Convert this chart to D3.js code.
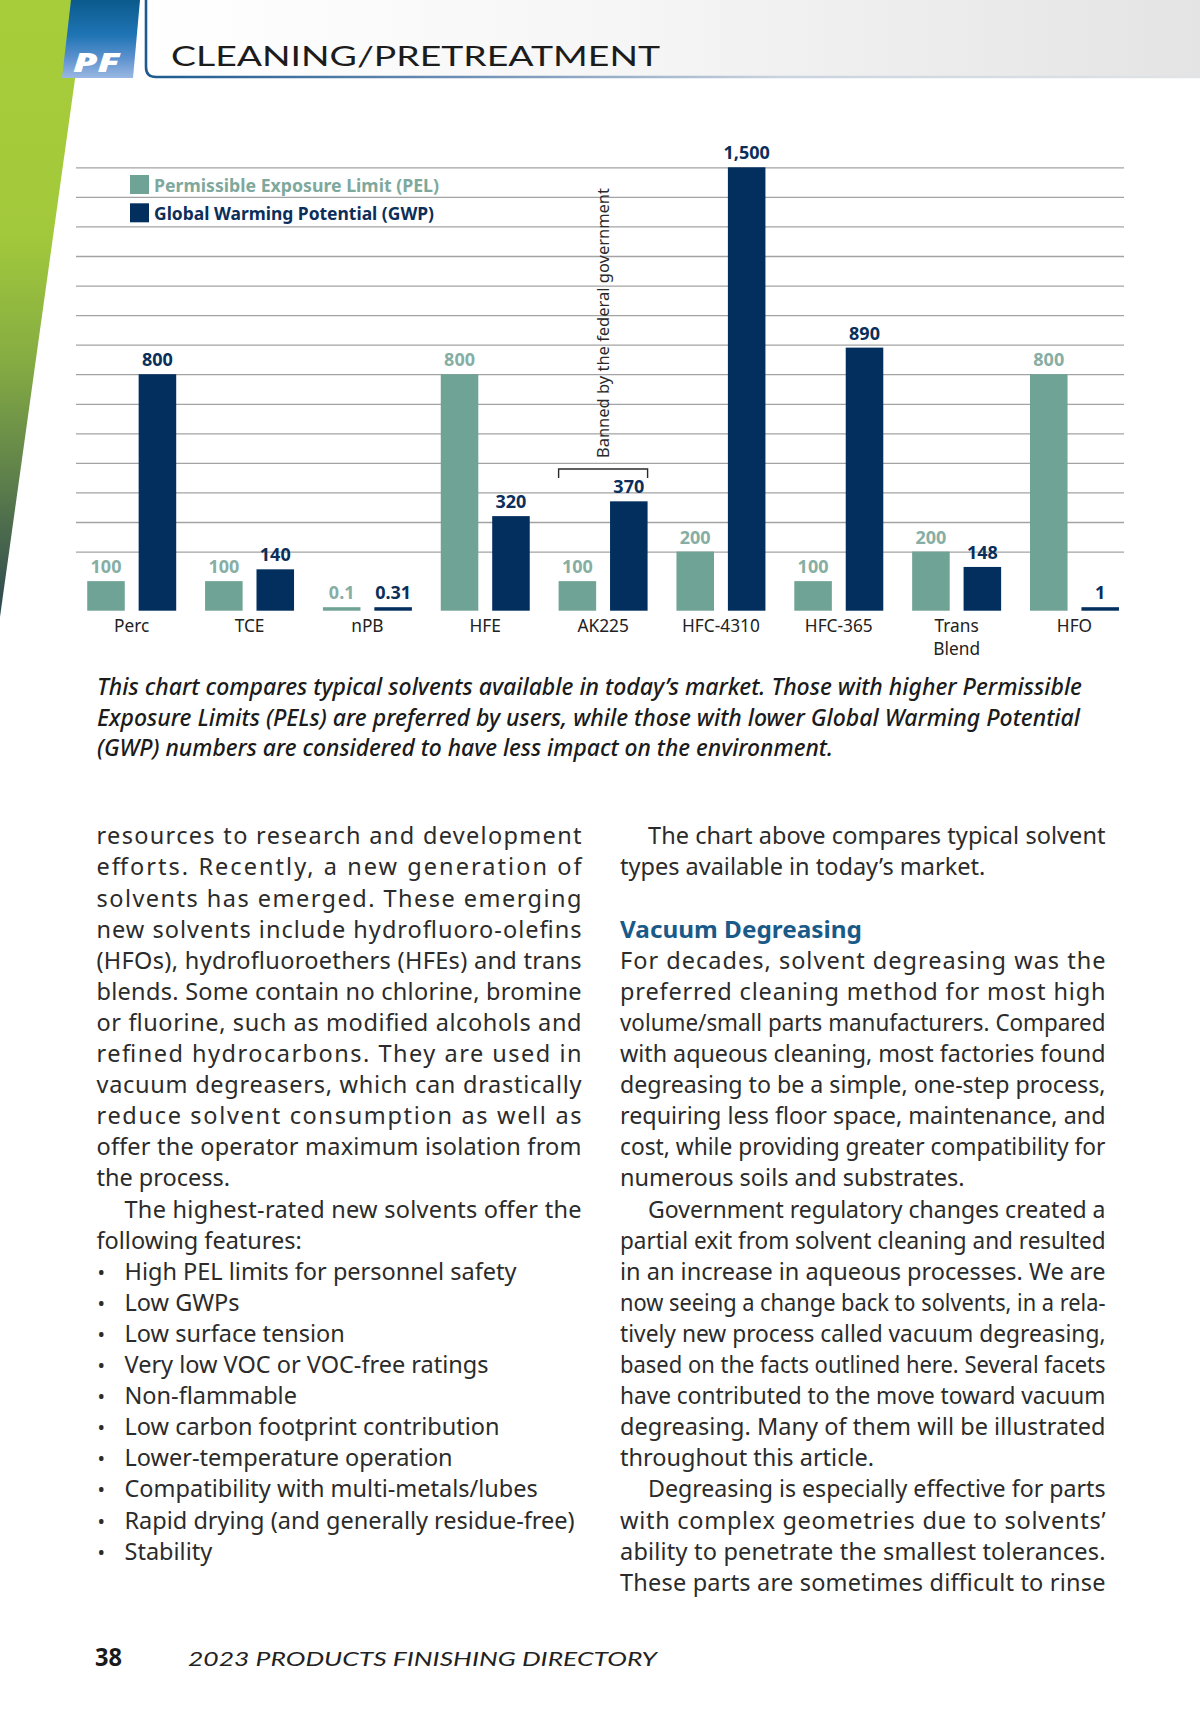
<!DOCTYPE html>
<html>
<head>
<meta charset="utf-8">
<script src="https://cdn.jsdelivr.net/npm/d3@7/dist/d3.min.js"></script>
<style>
  html, body { margin: 0; padding: 0; background: #ffffff; }
  svg { display: block; }
</style>
</head>
<body>
<script>
// ---------------- DATA ----------------
const categories = ["Perc", "TCE", "nPB", "HFE", "AK225", "HFC-4310", "HFC-365", "Trans Blend", "HFO"];
const pelValues = [100, 100, 0.1, 800, 100, 200, 100, 200, 800];
const gwpValues = [800, 140, 0.31, 320, 370, 1500, 890, 148, 1];
const seriesNames = ["Permissible Exposure Limit (PEL)", "Global Warming Potential (GWP)"];
const gridValues = [200, 300, 400, 500, 600, 700, 800, 900, 1000, 1100, 1200, 1300, 1400, 1500];
const bannedCategory = "AK225";
const bannedNote = "Banned by the federal government";

const headerTitle = "CLEANING/PRETREATMENT";
const logoText = "PF";
const captionLines = [
  "This chart compares typical solvents available in today’s market. Those with higher Permissible",
  "Exposure Limits (PELs) are preferred by users, while those with lower Global Warming Potential",
  "(GWP) numbers are considered to have less impact on the environment."
];
const leftParagraphs = [
  { kind: "cont", lines: [
    "resources to research and development",
    "efforts. Recently, a new generation of",
    "solvents has emerged. These emerging",
    "new solvents include hydrofluoro-olefins",
    "(HFOs), hydrofluoroethers (HFEs) and trans",
    "blends. Some contain no chlorine, bromine",
    "or fluorine, such as modified alcohols and",
    "refined hydrocarbons. They are used in",
    "vacuum degreasers, which can drastically",
    "reduce solvent consumption as well as",
    "offer the operator maximum isolation from",
    "the process."] },
  { kind: "indent", lines: [
    "The highest-rated new solvents offer the",
    "following features:"] },
  { kind: "bullets", lines: [
    "High PEL limits for personnel safety",
    "Low GWPs",
    "Low surface tension",
    "Very low VOC or VOC-free ratings",
    "Non-flammable",
    "Low carbon footprint contribution",
    "Lower-temperature operation",
    "Compatibility with multi-metals/lubes",
    "Rapid drying (and generally residue-free)",
    "Stability"] }
];
const rightParagraphs = [
  { kind: "indent", lines: [
    "The chart above compares typical solvent",
    "types available in today’s market."] },
  { kind: "blank", lines: [""] },
  { kind: "heading", lines: ["Vacuum Degreasing"] },
  { kind: "cont", lines: [
    "For decades, solvent degreasing was the",
    "preferred cleaning method for most high",
    "volume/small parts manufacturers. Compared",
    "with aqueous cleaning, most factories found",
    "degreasing to be a simple, one-step process,",
    "requiring less floor space, maintenance, and",
    "cost, while providing greater compatibility for",
    "numerous soils and substrates."] },
  { kind: "indent", lines: [
    "Government regulatory changes created a",
    "partial exit from solvent cleaning and resulted",
    "in an increase in aqueous processes. We are",
    "now seeing a change back to solvents, in a rela-",
    "tively new process called vacuum degreasing,",
    "based on the facts outlined here. Several facets",
    "have contributed to the move toward vacuum",
    "degreasing. Many of them will be illustrated",
    "throughout this article."] },
  { kind: "open", lines: [
    "Degreasing is especially effective for parts",
    "with complex geometries due to solvents’",
    "ability to penetrate the smallest tolerances.",
    "These parts are sometimes difficult to rinse"] }
];
const pageNumber = "38";
const footerText = "2023 PRODUCTS FINISHING DIRECTORY";

// ---------------- DRAWING ----------------
const W = 1200, H = 1725;
const svg = d3.select("body").append("svg")
  .attr("width", W).attr("height", H)
  .attr("viewBox", `0 0 ${W} ${H}`);
svg.append("rect").attr("width", W).attr("height", H).attr("fill", "#ffffff");

const defs = svg.append("defs");
function linGrad(id, x1, y1, x2, y2, stops) {
  const g = defs.append("linearGradient").attr("id", id)
    .attr("gradientUnits", "userSpaceOnUse")
    .attr("x1", x1).attr("y1", y1).attr("x2", x2).attr("y2", y2);
  stops.forEach(s => g.append("stop").attr("offset", s[0]).attr("stop-color", s[1]));
}
linGrad("hdrGrad", 140, 0, 1200, 0, [[0, "#ffffff"], [0.45, "#f6f6f6"], [1, "#e4e4e4"]]);
linGrad("greenGrad", 0, 0, 0, 617, [[0, "#a8cd3a"], [0.38, "#a2c93b"], [0.58, "#86ad42"], [0.78, "#5d7f4b"], [1, "#2c4650"]]);
linGrad("pfGrad", 0, 0, 0, 78, [[0, "#0a5a8c"], [0.45, "#1f74b4"], [0.75, "#5d92cf"], [1, "#9ab8e2"]]);
linGrad("lineGrad", 147, 0, 1200, 0, [[0, "#1d5a8e"], [0.3, "#6d8fb5"], [0.6, "#c9d3de"], [1, "#e2e4e6"]]);

// header
svg.append("rect").attr("x", 140).attr("y", 0).attr("width", W - 140).attr("height", 77).attr("fill", "url(#hdrGrad)");
svg.append("polygon").attr("points", "0,0 86,0 0,617").attr("fill", "url(#greenGrad)");
svg.append("polygon").attr("points", "71,0 140,0 133,78 62,78").attr("fill", "url(#pfGrad)");
svg.append("text").attr("x", 73).attr("y", 72)
  .attr("font-family", "'Noto Sans', sans-serif").attr("font-weight", 900)
  .attr("font-style", "italic").attr("font-size", 26).attr("fill", "#ffffff")
  .attr("textLength", 47).attr("lengthAdjust", "spacingAndGlyphs")
  .text(logoText);
svg.append("path").attr("d", "M146,0 V67 Q146,77 156,77 H1200")
  .attr("fill", "none").attr("stroke", "url(#lineGrad)").attr("stroke-width", 2.6);
svg.append("text").attr("x", 171).attr("y", 66)
  .attr("font-family", "Lato, sans-serif").attr("font-weight", 400)
  .attr("font-size", 27).attr("fill", "#1c1c1c")
  .attr("textLength", 489).attr("lengthAdjust", "spacingAndGlyphs")
  .text(headerTitle);

// chart
const colPEL = "#6fa395", colGWP = "#032f5f";
const colPELText = "#86aea4", colGWPText = "#0b2e5a";
const baseY = 610.7;
const x = d3.scaleBand().domain(categories).range([77.8, 1128.4]).paddingInner(0.245).paddingOuter(0.08);
const xs = d3.scaleBand().domain(["PEL", "GWP"]).range([0, x.bandwidth()]).paddingInner(0.27);
const y = d3.scaleLinear().domain([0, 1500]).range([baseY, 167.3]);

const chart = svg.append("g");
const grid = chart.append("g").attr("transform", "translate(76,0)")
  .call(d3.axisRight(y).tickValues(gridValues).tickSize(1048).tickFormat(""));
grid.select(".domain").remove();
grid.selectAll("line").attr("stroke", "#a3a3a3").attr("stroke-width", 1.3);

const rows = categories.map((c, i) => ({ cat: c, PEL: pelValues[i], GWP: gwpValues[i] }));
const minH = 3.5;
const groups = chart.selectAll("g.grp").data(rows).join("g").attr("class", "grp")
  .attr("transform", d => `translate(${x(d.cat)},0)`);
["PEL", "GWP"].forEach(k => {
  groups.append("rect")
    .attr("x", xs(k)).attr("width", xs.bandwidth())
    .attr("y", d => Math.min(y(d[k]), baseY - minH))
    .attr("height", d => Math.max(baseY - y(d[k]), minH))
    .attr("fill", k === "PEL" ? colPEL : colGWP);
  groups.append("text")
    .attr("x", xs(k) + xs.bandwidth() / 2)
    .attr("y", d => Math.min(y(d[k]), baseY - minH) - 8)
    .attr("text-anchor", "middle")
    .attr("font-family", "'Noto Sans', sans-serif").attr("font-weight", 700)
    .attr("font-size", 18)
    .attr("fill", k === "PEL" ? colPELText : colGWPText)
    .text(d => d3.format(",")(d[k]));
});

// category axis
const xAxis = chart.append("g").attr("transform", `translate(0,${baseY})`)
  .call(d3.axisBottom(x).tickSize(0).tickPadding(0));
xAxis.select(".domain").remove();
xAxis.selectAll(".tick text").each(function (d) {
  const t = d3.select(this);
  t.text(null).attr("y", 0).attr("dy", null)
    .attr("font-family", "'Noto Sans', sans-serif").attr("font-size", 17.3)
    .attr("fill", "#222222");
  d.split(" ").forEach((w, i) => {
    t.append("tspan").attr("x", 0).attr("y", 21.5 + i * 22.5).text(w);
  });
});

// legend
const leg = chart.append("g");
[["PEL", colPEL, "#7ea89c"], ["GWP", colGWP, colGWPText]].forEach((s, i) => {
  const ly = 175 + i * 28.3;
  leg.append("rect").attr("x", 130).attr("y", ly).attr("width", 19).attr("height", 19).attr("fill", s[1]);
  leg.append("text").attr("x", 154).attr("y", ly + 17)
    .attr("font-family", "'Noto Sans', sans-serif").attr("font-weight", 700)
    .attr("font-size", 17.5).attr("fill", s[2])
    .attr("textLength", i === 0 ? 285 : 280).attr("lengthAdjust", "spacingAndGlyphs")
    .text(seriesNames[i]);
});

// banned bracket + note
const bx0 = x(bannedCategory), bx1 = x(bannedCategory) + x.bandwidth();
chart.append("path").attr("d", `M${bx0},478 V469 H${bx1} V478`)
  .attr("fill", "none").attr("stroke", "#2a2a2a").attr("stroke-width", 1.4);
chart.append("text")
  .attr("transform", `translate(${(bx0 + bx1) / 2 + 5.5},458) rotate(-90)`)
  .attr("font-family", "'Noto Sans', sans-serif").attr("font-size", 16.5).attr("fill", "#2a2a2a")
  .attr("textLength", 270).attr("lengthAdjust", "spacingAndGlyphs")
  .text(bannedNote);

// caption
const capEnds = [1082, 1080, 833];
captionLines.forEach((line, i) => {
  svg.append("text").attr("x", 97).attr("y", 695 + i * 30.6)
    .attr("font-family", "'Noto Sans', sans-serif").attr("font-weight", 500)
    .attr("font-style", "italic").attr("font-size", 23.5).attr("fill", "#1b1b1b")
    .attr("textLength", capEnds[i] - 97).attr("lengthAdjust", "spacingAndGlyphs")
    .text(line);
});

// body text
const bodyFont = "'Noto Sans', sans-serif";
const lineStep = 31.1, firstBase = 844.3;
function drawColumn(paras, x0, x1) {
  let idx = 0;
  paras.forEach(p => {
    p.lines.forEach((line, li) => {
      const yy = firstBase + idx * lineStep;
      idx++;
      if (p.kind === "blank") return;
      const isLast = li === p.lines.length - 1 && p.kind !== "open";
      if (p.kind === "heading") {
        svg.append("text").attr("x", x0).attr("y", yy)
          .attr("font-family", bodyFont).attr("font-weight", 700).attr("font-size", 24)
          .attr("fill", "#1a5a88").attr("textLength", 242).attr("lengthAdjust", "spacingAndGlyphs")
          .text(line);
        return;
      }
      let sx = x0;
      if (p.kind === "bullets") {
        svg.append("text").attr("x", x0 + 1).attr("y", yy)
          .attr("font-family", bodyFont).attr("font-size", 20).attr("fill", "#2b2b2b").text("•");
        sx = x0 + 28;
      } else if ((p.kind === "indent" || p.kind === "open") && li === 0) {
        sx = x0 + 28;
      }
      const t = svg.append("text").attr("x", sx).attr("y", yy)
        .attr("font-family", bodyFont).attr("font-size", 23.5).attr("fill", "#2b2b2b")
        .text(line);
      const natural = t.node().getComputedTextLength();
      const target = x1 - sx;
      if (p.kind !== "bullets" && !isLast) {
        t.attr("textLength", target).attr("lengthAdjust", natural > target ? "spacingAndGlyphs" : "spacing");
      } else if (natural > target) {
        t.attr("textLength", target).attr("lengthAdjust", "spacingAndGlyphs");
      }
    });
  });
}
drawColumn(leftParagraphs, 96.5, 581.5);
drawColumn(rightParagraphs, 620, 1105.5);

// footer
svg.append("text").attr("x", 95).attr("y", 1666)
  .attr("font-family", bodyFont).attr("font-weight", 700).attr("font-size", 24.5)
  .attr("fill", "#1a1a1a").attr("textLength", 27).attr("lengthAdjust", "spacingAndGlyphs")
  .text(pageNumber);
svg.append("text").attr("x", 188).attr("y", 1666)
  .attr("font-family", "Lato, sans-serif").attr("font-style", "italic").attr("font-size", 20)
  .attr("fill", "#222222").attr("textLength", 469).attr("lengthAdjust", "spacingAndGlyphs")
  .text(footerText);
</script>
</body>
</html>
